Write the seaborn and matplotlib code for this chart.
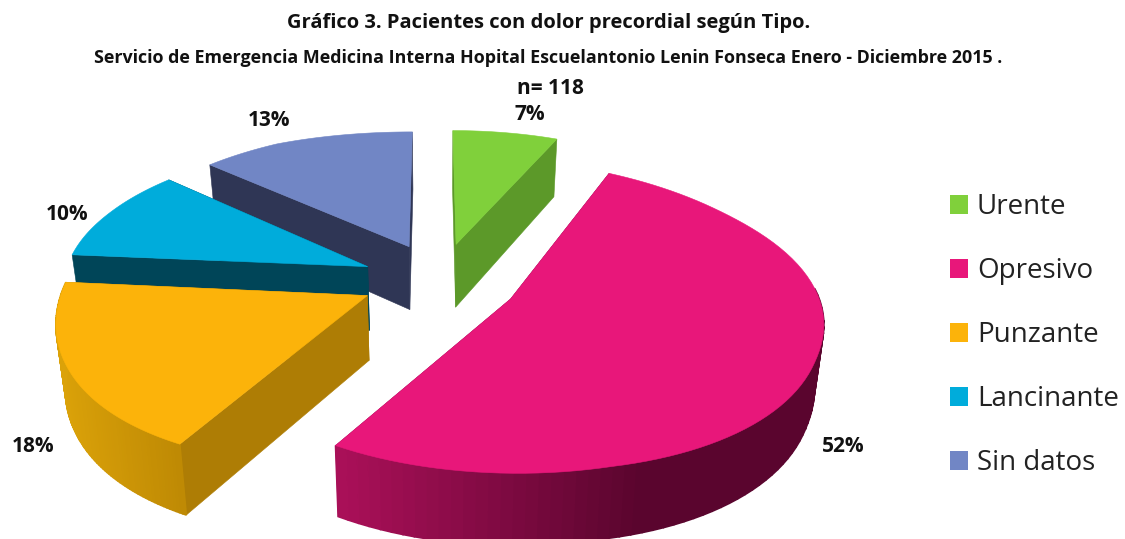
import numpy as np
import matplotlib
matplotlib.use("Agg")
import matplotlib.pyplot as plt
from matplotlib.patches import Polygon, Patch
import seaborn as sns

categories = ["Urente", "Opresivo", "Punzante", "Lancinante", "Sin datos"]
values = [7, 52, 18, 10, 13]
top_colors = ["#80D03B", "#E8177A", "#FCB30A", "#00ACDB", "#7186C5"]
wall_from = ["#5C9929", "#AB1059", "#DCA309", "#004558", "#2F3655"]
wall_to = ["#5C9929", "#5A052E", "#BE8904", "#004558", "#2F3655"]
wall_x0 = [450, 335, 51, 70, 200]
wall_x1 = [560, 640, 181, 370, 410]
cut_colors = ["#5C9929", "#7A0A45", "#AE7D05", "#004558", "#2F3655"]
offset_u = [0.058, 0.23, -0.232, -0.235, -0.10]
offset_v = [0.19, -0.14, -0.12, 0.05, 0.175]
draw_order = [4, 0, 3, 2, 1]

sns.set_theme(style="white")
palette = sns.color_palette(top_colors)

CX, CY, RX, RY, H = 439, 275, 305, 169, 64
KX_FRONT, KX_BACK_RIGHT, KX_BACK_LEFT = 0.10, 0.23, 0.12
KY_FRONT, KY_BACK = 0.025, 0.33
TILT_L, TILT_R = 13, 10

fig = plt.figure(figsize=(11.25, 5.39), dpi=100)
ax = fig.add_axes([0, 0, 1, 1])
ax.set_xlim(0, 1125)
ax.set_ylim(539, 0)
ax.axis("off")


def project(u, v, drop=0.0):
    w = np.clip((v + 0.5) / 1.0, 0, 1)
    w = w * w * (3 - 2 * w)
    kx_back = KX_BACK_RIGHT if u > 0 else KX_BACK_LEFT
    kx = KX_FRONT + (kx_back - KX_FRONT) * w
    ky = KY_FRONT + (KY_BACK - KY_FRONT) * w
    x = RX * u / (1 + kx * v)
    y = CY - RY * v / (1 + ky * v) + TILT_L * max(0.0, -u - 0.6) + TILT_R * max(0.0, u - 0.5)
    x *= 1 - 0.025 * drop / H
    return CX + x, y + drop / (1 + 0.1 * v)


def poly(points, color, z, lw=0.4):
    ax.add_patch(Polygon(points, closed=True, facecolor=color, edgecolor=color,
                         linewidth=lw, zorder=z))


def mix(c0, c1, t):
    a, b = np.array(matplotlib.colors.to_rgb(c0)), np.array(matplotlib.colors.to_rgb(c1))
    return tuple(a + (b - a) * np.clip(t, 0, 1))


edges = np.cumsum([0] + values) / np.sum(values) * 2 * np.pi
for z, i in enumerate(draw_order):
    a = np.linspace(edges[i], edges[i + 1], 90)
    us = offset_u[i] + np.sin(a)
    vs = offset_v[i] + np.cos(a)
    hub = (offset_u[i], offset_v[i])
    base = z * 10
    for e in (0, -1):
        poly([project(*hub), project(us[e], vs[e]),
              project(us[e], vs[e], H), project(*hub, H)], cut_colors[i], base + 1)
    for j in range(len(a) - 1):
        if np.cos(a[j]) > 0.12:
            continue
        p0, p1 = project(us[j], vs[j]), project(us[j + 1], vs[j + 1])
        t = (0.5 * (p0[0] + p1[0]) - wall_x0[i]) / (wall_x1[i] - wall_x0[i])
        poly([p0, p1, project(us[j + 1], vs[j + 1], H), project(us[j], vs[j], H)],
             mix(wall_from[i], wall_to[i], t), base + 2, lw=1.2)
    pts = [project(*hub)] + [project(u, v) for u, v in zip(us, vs)]
    poly(pts, palette[i], base + 3)

font = "Open Sans"
ink = "#111111"
ax.text(549, 23, "Gráfico 3. Pacientes con dolor precordial según Tipo.", ha="center", va="center",
        fontsize=14.5, fontweight="bold", family=font, color=ink)
ax.text(548, 58, "Servicio de Emergencia Medicina Interna Hopital Escuelantonio Lenin Fonseca Enero - Diciembre 2015 .",
        ha="center", va="center", fontsize=12.9, fontweight="bold", family=font, color=ink)
ax.text(550, 88, "n= 118", ha="center", va="center", fontsize=15, fontweight="bold", family=font, color=ink)

label_x = [530, 843, 33, 67, 269]
label_y = [115, 446, 446, 214, 121]
for v, x, y in zip(values, label_x, label_y):
    ax.text(x, y, f"{v}%", ha="center", va="center", fontsize=15, fontweight="bold",
            family=font, color=ink, zorder=100)

handles = [Patch(facecolor=c, edgecolor="none") for c in palette]
ax.legend(handles, categories, loc="upper left", bbox_to_anchor=(950 / 1125, 1 - 193 / 539),
          frameon=False, prop={"family": "Open Sans", "size": 20}, handlelength=0.65,
          handleheight=0.65, handletextpad=0.32, labelspacing=1.3, borderpad=0, borderaxespad=0,
          labelcolor="#222222")

fig.savefig("out.png", dpi=100)
